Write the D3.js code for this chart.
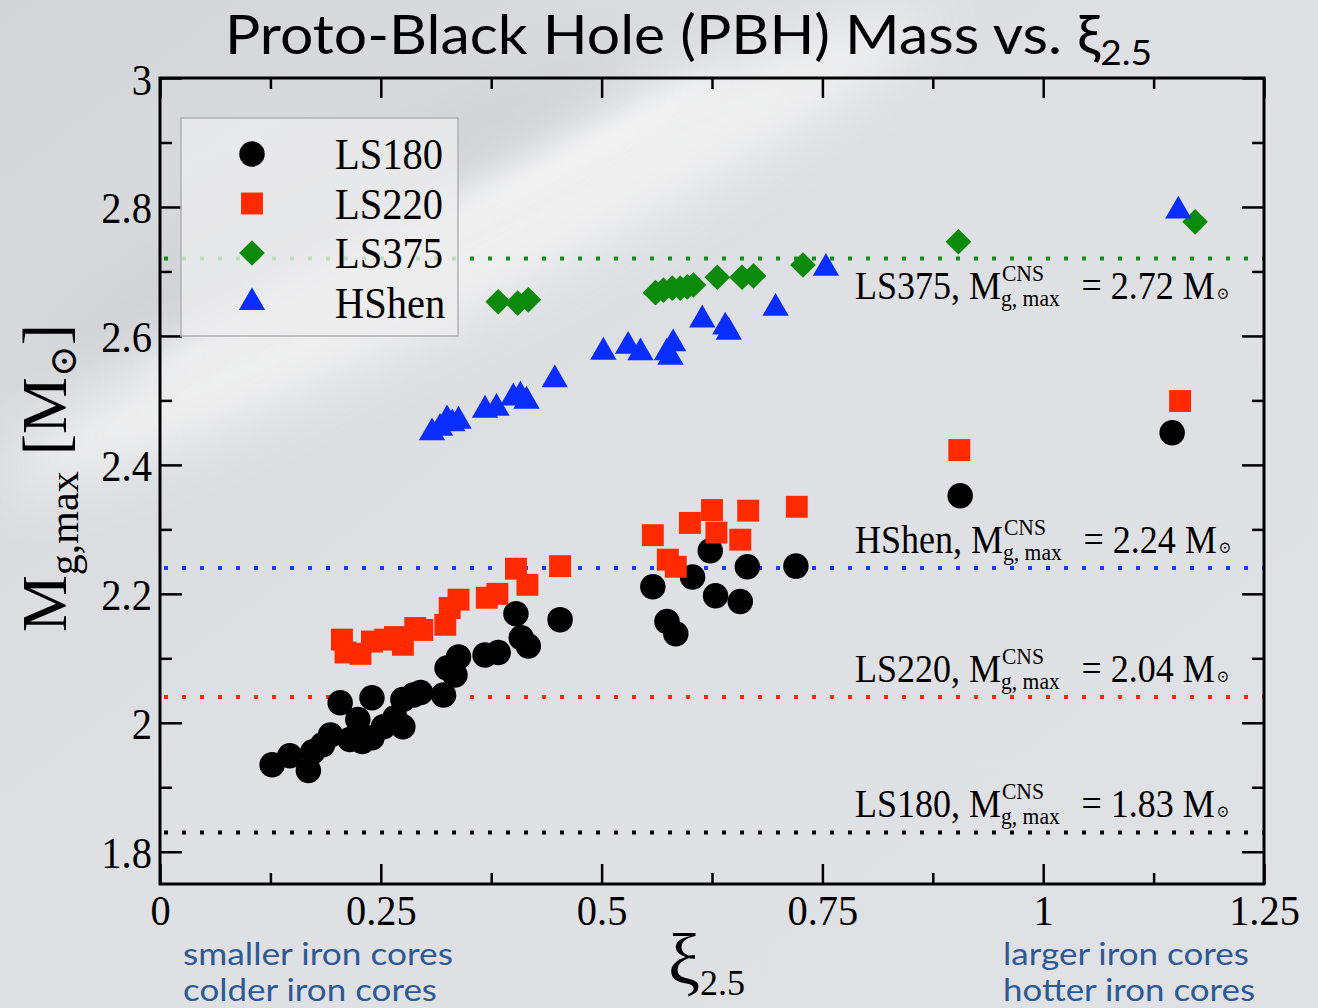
<!DOCTYPE html>
<html>
<head>
<meta charset="utf-8">
<script src="https://cdn.jsdelivr.net/npm/d3@7"></script>
<style>
  html, body { margin: 0; padding: 0; background: #dcdde0; }
  svg { display: block; }
</style>
</head>
<body>
<svg id="chart" width="1318" height="1008"></svg>
<script>
// ---- Data: [xi_2.5, M_g,max] per progenitor, one array per EOS ----
const ls180 = [
  [0.127,1.935],[0.147,1.949],[0.168,1.926],[0.173,1.955],[0.184,1.966],[0.193,1.981],
  [0.204,2.031],[0.215,1.974],[0.224,2.005],[0.229,1.971],[0.240,2.039],[0.240,1.977],
  [0.253,1.994],[0.266,2.008],[0.275,2.036],[0.275,1.994],[0.287,2.043],[0.295,2.047],
  [0.321,2.043],[0.325,2.085],[0.334,2.074],[0.338,2.102],[0.368,2.105],[0.383,2.109],
  [0.403,2.169],[0.409,2.132],[0.417,2.119],[0.453,2.160],[0.558,2.211],[0.574,2.157],
  [0.584,2.138],[0.603,2.226],[0.623,2.267],[0.629,2.197],[0.657,2.188],[0.665,2.242],
  [0.720,2.243],[0.906,2.352],[1.146,2.450]
];
const ls220 = [
  [0.206,2.129],[0.210,2.109],[0.227,2.107],[0.240,2.126],[0.255,2.129],[0.266,2.133],
  [0.275,2.121],[0.289,2.147],[0.297,2.144],[0.323,2.152],[0.328,2.178],[0.338,2.191],
  [0.370,2.194],[0.382,2.200],[0.403,2.239],[0.416,2.214],[0.453,2.243],[0.558,2.291],
  [0.575,2.253],[0.584,2.242],[0.600,2.310],[0.625,2.330],[0.630,2.295],[0.657,2.284],
  [0.666,2.329],[0.721,2.335],[0.905,2.423],[1.155,2.499]
];
const ls375 = [
  [0.383,2.653],[0.405,2.651],[0.417,2.656],[0.561,2.667],[0.570,2.671],[0.580,2.674],
  [0.589,2.674],[0.597,2.676],[0.604,2.679],[0.631,2.691],[0.659,2.691],[0.672,2.693],
  [0.728,2.710],[0.904,2.746],[1.172,2.777]
];
const hshen = [
  [0.308,2.450],[0.317,2.457],[0.325,2.470],[0.331,2.464],[0.338,2.468],[0.368,2.485],
  [0.381,2.488],[0.400,2.504],[0.408,2.507],[0.415,2.499],[0.447,2.532],[0.502,2.575],
  [0.530,2.584],[0.544,2.574],[0.574,2.574],[0.581,2.588],[0.578,2.567],[0.614,2.625],
  [0.640,2.614],[0.644,2.606],[0.697,2.643],[0.754,2.705],[1.153,2.794]
];

// Maximum gravitational mass of cold neutron stars for each EOS
const cnsEos    = ["LS375", "HShen", "LS220", "LS180"];
const cnsMass   = [2.72, 2.24, 2.04, 1.83];
const cnsColors = ["#10901a", "#1a3cff", "#ff2a10", "#000000"];

const xMajor = [0, 0.25, 0.5, 0.75, 1, 1.25];
const xMinor = [0.125, 0.375, 0.625, 0.875, 1.125];
const yMajor = [1.8, 2, 2.2, 2.4, 2.6, 2.8, 3];
const yMinor = [1.9, 2.1, 2.3, 2.5, 2.7, 2.9];

const legendNames = ["LS180", "LS220", "LS375", "HShen"];

// ---- Layout ----
const svg = d3.select("#chart");
const W = 1318, H = 1008;
const m = { left: 160, right: 1264, top: 78, bottom: 884 };
const SERIF = "'Liberation Serif', 'Times New Roman', serif";
const SANS = "Lato, 'Open Sans', sans-serif";
const SQX = 0.9; // horizontal squeeze for the serif lettering

const x = d3.scaleLinear().domain([0, 1.25]).range([m.left, m.right]);
const y = d3.scaleLinear().domain([1.75, 3]).range([m.bottom, m.top]);

// ---- Background ----
const defs = svg.append("defs");
const bg = defs.append("linearGradient").attr("id", "bg")
  .attr("x1", 0).attr("y1", 0).attr("x2", 1).attr("y2", 1);
bg.append("stop").attr("offset", 0).attr("stop-color", "#d4d5d8");
bg.append("stop").attr("offset", 0.45).attr("stop-color", "#dfe0e3");
bg.append("stop").attr("offset", 1).attr("stop-color", "#e0e1e4");
defs.append("filter").attr("id", "soft").attr("x", "-50%").attr("y", "-50%")
  .attr("width", "200%").attr("height", "200%")
  .append("feGaussianBlur").attr("stdDeviation", 28);
defs.append("filter").attr("id", "soft2").attr("x", "-50%").attr("y", "-50%")
  .attr("width", "200%").attr("height", "200%")
  .append("feGaussianBlur").attr("stdDeviation", 12);

svg.append("rect").attr("width", W).attr("height", H).attr("fill", "url(#bg)");
// faint galactic band sweeping across the upper left
svg.append("ellipse").attr("cx", 470).attr("cy", 250).attr("rx", 520).attr("ry", 60)
  .attr("transform", "rotate(-27 470 250)")
  .attr("fill", "#f4f4f4").attr("opacity", 0.8).attr("filter", "url(#soft)");
svg.append("ellipse").attr("cx", 430).attr("cy", 225).attr("rx", 330).attr("ry", 14)
  .attr("transform", "rotate(-27 430 225)")
  .attr("fill", "#ffffff").attr("opacity", 0.6).attr("filter", "url(#soft2)");
svg.append("ellipse").attr("cx", 330).attr("cy", 210).attr("rx", 330).attr("ry", 50)
  .attr("transform", "rotate(-27 330 210)")
  .attr("fill", "#c9cacd").attr("opacity", 0.45).attr("filter", "url(#soft)");

// ---- Title ----
const title = svg.append("text")
  .attr("x", 225).attr("y", 54)
  .attr("font-family", SANS).attr("font-size", 54).attr("fill", "#000");
title.append("tspan").text("Proto-Black Hole (PBH) Mass vs. ξ");
title.append("tspan").attr("font-size", 34).attr("dy", 11).text("2.5");
title.attr("textLength", 927).attr("lengthAdjust", "spacingAndGlyphs");

// ---- CNS reference lines ----
const refG = svg.append("g");
cnsMass.forEach((v, i) => {
  refG.append("line")
    .attr("x1", m.left + 4).attr("x2", m.right)
    .attr("y1", y(v)).attr("y2", y(v))
    .attr("stroke", cnsColors[i]).attr("stroke-width", 4)
    .attr("stroke-dasharray", "4 14");
});

// ---- Axes: inward ticks on all four sides ----
function styleAxis(g) {
  g.select(".domain").remove();
  g.selectAll(".tick line").attr("stroke", "#000").attr("stroke-width", 2.5);
}
svg.append("g").attr("transform", `translate(0,${m.bottom})`)
  .call(d3.axisBottom(x).tickValues(xMajor).tickSize(-20).tickPadding(0)
    .tickFormat(d => d3.format("~g")(d)))
  .call(styleAxis)
  .call(g => g.selectAll(".tick text")
    .attr("font-family", SERIF).attr("font-size", 43).attr("fill", "#000")
    .attr("y", 41).attr("dy", 0).attr("transform", "scale(0.94,1)"));
svg.append("g").attr("transform", `translate(0,${m.bottom})`)
  .call(d3.axisBottom(x).tickValues(xMinor).tickSize(-11).tickFormat(""))
  .call(styleAxis);
svg.append("g").attr("transform", `translate(0,${m.top})`)
  .call(d3.axisTop(x).tickValues(xMajor).tickSize(-20).tickFormat(""))
  .call(styleAxis);
svg.append("g").attr("transform", `translate(0,${m.top})`)
  .call(d3.axisTop(x).tickValues(xMinor).tickSize(-11).tickFormat(""))
  .call(styleAxis);

svg.append("g").attr("transform", `translate(${m.left},0)`)
  .call(d3.axisLeft(y).tickValues(yMajor).tickSize(-22).tickPadding(0)
    .tickFormat(d => d3.format("~g")(d)))
  .call(styleAxis)
  .call(g => g.selectAll(".tick text")
    .attr("font-family", SERIF).attr("font-size", 45).attr("fill", "#000")
    .attr("x", -9).attr("dy", 16).attr("transform", `scale(${SQX},1)`));
svg.append("g").attr("transform", `translate(${m.left},0)`)
  .call(d3.axisLeft(y).tickValues(yMinor).tickSize(-12).tickFormat(""))
  .call(styleAxis);
svg.append("g").attr("transform", `translate(${m.right},0)`)
  .call(d3.axisRight(y).tickValues(yMajor).tickSize(-22).tickFormat(""))
  .call(styleAxis);
svg.append("g").attr("transform", `translate(${m.right},0)`)
  .call(d3.axisRight(y).tickValues(yMinor).tickSize(-12).tickFormat(""))
  .call(styleAxis);

// frame
svg.append("rect")
  .attr("x", m.left).attr("y", m.top)
  .attr("width", m.right - m.left).attr("height", m.bottom - m.top)
  .attr("fill", "none").attr("stroke", "#000").attr("stroke-width", 3);

// ---- Reference-line annotations ----
const annoBase = [y(2.72) + 40, y(2.24) - 15, y(2.04) - 15, y(1.83) - 15];
cnsEos.forEach((eos, i) => {
  const g = svg.append("g")
    .attr("transform", `translate(855,${annoBase[i]}) scale(${SQX},1)`)
    .attr("font-family", SERIF).attr("fill", "#000");
  const t1 = g.append("text").attr("font-size", 40).text(`${eos}, M`);
  const w1 = t1.node().getComputedTextLength();
  g.append("text").attr("x", w1 + 1).attr("y", -18).attr("font-size", 24).text("CNS");
  const sub = g.append("text").attr("x", w1).attr("y", 7).attr("font-size", 24).text("g, max");
  const w2 = sub.node().getComputedTextLength();
  const t3 = g.append("text").attr("x", w1 + w2 + 24).attr("font-size", 40)
    .text(`= ${cnsMass[i].toFixed(2)} M`);
  const w3 = t3.node().getComputedTextLength();
  g.append("text").attr("x", w1 + w2 + 24 + w3 + 2).attr("y", 0)
    .attr("font-family", "'DejaVu Serif', serif").attr("font-size", 17).text("⊙");
});

// ---- Markers ----
const sym = {
  circle:   d3.symbol().type(d3.symbolCircle).size(510)(),
  square:   d3.symbol().type(d3.symbolSquare).size(480)(),
  diamond:  d3.symbol().type(d3.symbolSquare).size(330)(),
  triangle: d3.symbol().type(d3.symbolTriangle).size(300)()
};
const series = [
  { data: ls180, shape: "circle",   color: "#000000", rot: 0 },
  { data: ls220, shape: "square",   color: "#ff2a00", rot: 0 },
  { data: ls375, shape: "diamond",  color: "#0c8a0c", rot: 45 },
  { data: hshen, shape: "triangle", color: "#0a2dff", rot: 0 }
];
series.forEach(s => {
  svg.append("g").selectAll("path").data(s.data).join("path")
    .attr("d", sym[s.shape])
    .attr("transform", d => `translate(${x(d[0])},${y(d[1])}) rotate(${s.rot})`)
    .attr("fill", s.color);
});

// ---- Legend ----
const lg = svg.append("g");
lg.append("rect").attr("x", 181).attr("y", 118).attr("width", 277).attr("height", 218)
  .attr("fill", "#ececee").attr("fill-opacity", 0.8)
  .attr("stroke", "#b0b0b4").attr("stroke-width", 1.5);
legendNames.forEach((name, i) => {
  const cy = 154 + i * 49.5;
  const s = series[i];
  lg.append("path").attr("d", sym[s.shape])
    .attr("transform", `translate(252,${cy}) rotate(${s.rot})`)
    .attr("fill", s.color);
  lg.append("text")
    .attr("transform", `translate(335,${cy + 15}) scale(${SQX},1)`)
    .attr("font-family", SERIF).attr("font-size", 45).attr("fill", "#000")
    .text(name);
});

// ---- Axis titles ----
const yl = svg.append("text")
  .attr("transform", "translate(66,478) rotate(-90)")
  .attr("text-anchor", "middle")
  .attr("font-family", SERIF).attr("font-size", 64).attr("fill", "#000");
yl.append("tspan").text("M");
yl.append("tspan").attr("font-size", 42).attr("dy", 12).text("g,max");
yl.append("tspan").attr("dy", -12).text(" [M");
yl.append("tspan").attr("font-family", "'DejaVu Serif', serif").attr("font-size", 38).attr("dy", 10).text("⊙");
yl.append("tspan").attr("dy", -10).text("]");

const xl = svg.append("text").attr("x", 668).attr("y", 984)
  .attr("font-family", SERIF).attr("font-size", 72).attr("fill", "#000");
xl.append("tspan").text("ξ");
xl.append("tspan").attr("font-size", 36).attr("dy", 11).text("2.5");

// ---- Blue notes under the axis ----
const noteColor = "#2d5a94";
const notes = [
  { text: "smaller iron cores", x: 183, y: 965, w: 270 },
  { text: "colder iron cores",  x: 183, y: 1001, w: 254 },
  { text: "larger iron cores",  x: 1003, y: 965, w: 246 },
  { text: "hotter iron cores",  x: 1003, y: 1001, w: 252 }
];
notes.forEach(n => {
  svg.append("text").attr("x", n.x).attr("y", n.y)
    .attr("font-family", SANS).attr("font-size", 31).attr("fill", noteColor)
    .attr("textLength", n.w).attr("lengthAdjust", "spacingAndGlyphs")
    .text(n.text);
});
</script>
</body>
</html>
